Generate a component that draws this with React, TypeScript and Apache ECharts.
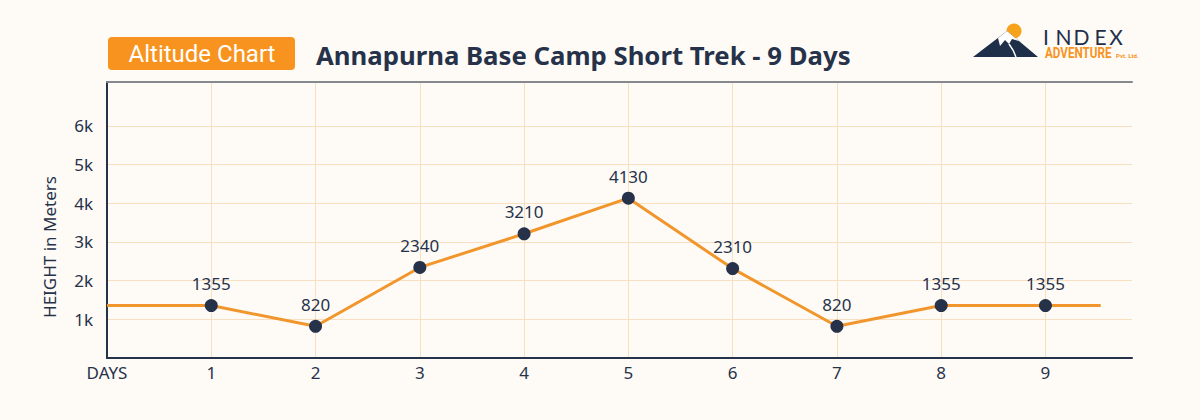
import React, { useEffect, useRef } from "react";
import * as echarts from "echarts";

const days = [1, 2, 3, 4, 5, 6, 7, 8, 9];
const altitudes = [1355, 820, 2340, 3210, 4130, 2310, 820, 1355, 1355];
const leadIn = [0, 1355];
const leadOut = [9.53, 1355];
const yTickLabels = ["", "1k", "2k", "3k", "4k", "5k", "6k"];
const xFirstLabel = "DAYS";
const yAxisTitle = "HEIGHT in Meters";
const chartTitle = "Annapurna Base Camp Short Trek - 9 Days";
const badgeText = "Altitude Chart";
const logoLetters = ["I", "N", "D", "E", "X"];

const NAVY = "#26324a";
const ORANGE = "#f1962c";
const GRID = "#f8dfc0";
const FONT = "Noto Sans";

export default function App() {
  const ref = useRef<HTMLDivElement>(null);
  useEffect(() => {
    if (!ref.current) return;
    const chart = echarts.init(ref.current, null, { renderer: "svg" });
    const pts: any[] = [
      { value: leadIn, symbol: "none", label: { show: false } },
      ...days.map((d, i) => ({ value: [d, altitudes[i]] })),
      { value: leadOut, symbol: "none", label: { show: false } },
    ];
    const xMax = 9.83;
    const yMax = 7132;
    const gridColors = ["transparent", GRID, GRID, GRID, GRID, GRID, GRID, "transparent", "transparent"];
    const xGridColors = ["transparent", GRID, GRID, GRID, GRID, GRID, GRID, GRID, GRID, GRID, "transparent"];
    const letterX = [1046, 1063.5, 1081.5, 1100.5, 1116];
    chart.setOption({
      animation: false,
      backgroundColor: "#fefbf6",
      textStyle: { fontFamily: FONT },
      grid: { left: 107, right: 68, top: 82, bottom: 62 },
      xAxis: [
        {
          type: "value",
          min: 0,
          max: xMax,
          interval: 1,
          axisLine: { show: true, lineStyle: { color: NAVY, width: 2 } },
          axisTick: { show: false },
          axisLabel: {
            color: NAVY,
            fontSize: 17,
            fontFamily: FONT,
            margin: 6,
            formatter: (v: number) => (v === 0 ? xFirstLabel : Number.isInteger(v) ? String(v) : ""),
          },
          splitLine: { show: true, lineStyle: { color: xGridColors, width: 1 } },
        },
        {
          type: "value",
          position: "top",
          min: 0,
          max: xMax,
          interval: 1,
          axisLine: { show: true, lineStyle: { color: "#85888c", width: 2 } },
          axisTick: { show: false },
          axisLabel: { show: false },
          splitLine: { show: false },
        },
      ],
      yAxis: {
        type: "value",
        min: 0,
        max: yMax,
        interval: 1000,
        axisLine: { show: true, lineStyle: { color: NAVY, width: 2 } },
        axisTick: { show: false },
        axisLabel: {
          color: NAVY,
          fontSize: 17,
          fontFamily: FONT,
          margin: 14,
          formatter: (v: number) => {
            const i = Math.round(v / 1000);
            return v % 1000 === 0 && i < yTickLabels.length ? yTickLabels[i] : "";
          },
        },
        splitLine: { show: true, lineStyle: { color: gridColors, width: 1 } },
      },
      series: [
        {
          type: "line",
          data: pts,
          symbol: "circle",
          symbolSize: 13,
          itemStyle: { color: NAVY },
          lineStyle: { color: ORANGE, width: 3 },
          label: {
            show: true,
            position: "top",
            distance: 7,
            color: NAVY,
            fontSize: 17,
            fontFamily: FONT,
            formatter: (p: any) => String(p.value[1]),
          },
          z: 3,
        },
      ],
      graphic: [
        {
          type: "text",
          x: 49,
          y: 247,
          rotation: Math.PI / 2,
          style: {
            text: yAxisTitle,
            fill: NAVY,
            fontSize: 17,
            fontFamily: FONT,
            align: "center",
            verticalAlign: "middle",
          },
        },
        {
          type: "rect",
          shape: { x: 108, y: 37, width: 187, height: 33, r: 4 },
          style: { fill: "#f7931e" },
        },
        {
          type: "text",
          x: 202,
          y: 54,
          style: {
            text: badgeText,
            fill: "#ffffff",
            fontSize: 24,
            fontFamily: "Roboto",
            fontWeight: 400,
            align: "center",
            verticalAlign: "middle",
          },
        },
        {
          type: "text",
          x: 316,
          y: 55,
          scaleX: 1.03,
          style: {
            text: chartTitle,
            fill: NAVY,
            fontSize: 25,
            fontFamily: FONT,
            fontWeight: "bold",
            align: "left",
            verticalAlign: "middle",
          },
        },
        { type: "circle", shape: { cx: 1014, cy: 31, r: 7.5 }, style: { fill: "#f7a21b" } },
        {
          type: "polygon",
          shape: { points: [[973, 57], [1007, 31], [1038, 57]] },
          style: { fill: "#1f2f4a" },
        },
        {
          type: "polygon",
          shape: {
            points: [[998, 38], [1007, 31], [1019, 41], [1012, 39], [1009, 44], [1005, 40], [1000, 46]],
          },
          style: { fill: "#ffffff" },
        },
        {
          type: "polyline",
          shape: { points: [[1009, 44], [1013, 50], [1016, 57]] },
          style: { stroke: "#ffffff", lineWidth: 1.5, fill: "none" },
        },
        ...logoLetters.map((ch, i) => ({
          type: "text",
          x: letterX[i],
          y: 36,
          style: {
            text: ch,
            fill: "#1f2f4a",
            fontSize: 21,
            fontFamily: "Lato",
            fontWeight: 400,
            align: "center",
            verticalAlign: "middle",
          },
        })),
        {
          type: "text",
          x: 1045,
          y: 53,
          scaleX: 0.78,
          style: {
            text: "ADVENTURE",
            fill: "#f7931e",
            fontSize: 15,
            fontFamily: "Roboto",
            fontWeight: "bold",
            align: "left",
            verticalAlign: "middle",
          },
        },
        {
          type: "text",
          x: 1116,
          y: 55,
          style: {
            text: "Pvt. Ltd.",
            fill: "#f7931e",
            fontSize: 6,
            fontFamily: "Roboto",
            fontWeight: "bold",
            align: "left",
            verticalAlign: "middle",
          },
        },
      ],
    });
    return () => chart.dispose();
  }, []);
  return (
    <div
      ref={ref}
      style={{ position: "fixed", left: 0, top: 0, width: 1200, height: 420, background: "#fefbf6" }}
    />
  );
}
